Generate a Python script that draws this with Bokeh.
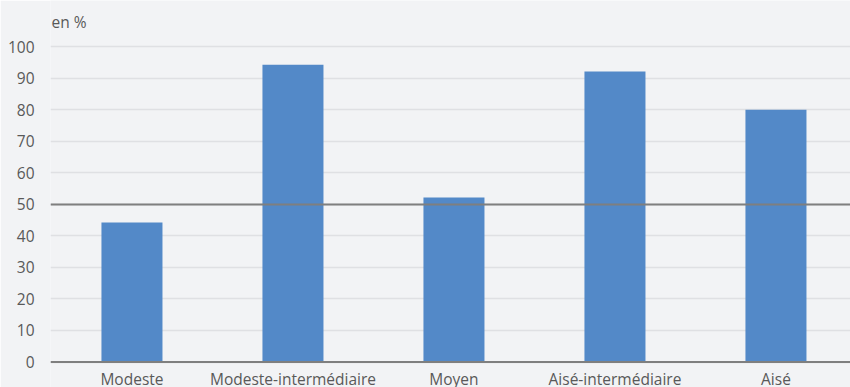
from bokeh.plotting import figure
from bokeh.models import Span, FixedTicker, Range1d, ColumnDataSource
from bokeh.core.properties import value
from bokeh.embed import file_html
from bokeh.resources import INLINE

categories = ["Modeste", "Modeste-intermédiaire", "Moyen", "Aisé-intermédiaire", "Aisé"]
values = [44.3, 94.4, 52.2, 92.2, 80.1]
y_ticks = [0, 10, 20, 30, 40, 50, 60, 70, 80, 90, 100]
unit_label = "en %"
reference_line = 50

BG = "#f2f3f5"
FONT = "Open Sans"
TXT = "#595959"
FS = "15.5px"

xpos = [i + 0.5 for i in range(len(categories))]
src = ColumnDataSource(dict(x=xpos, top=values, label=categories))

# frame covers the full height; 0..100 maps to pixel rows 361.5..46.5
p = figure(x_range=Range1d(-0.006, 4.963), y_range=Range1d(-8.095, 114.76),
           width=850, height=387,
           output_backend="svg", toolbar_location=None, x_axis_location=None,
           min_border_left=50, min_border_right=0, min_border_top=0, min_border_bottom=0,
           background_fill_color=BG, border_fill_color=BG, outline_line_color=None)

p.vbar(x="x", top="top", source=src, width=0.379, color="#5389c8", line_color=None)

p.yaxis.ticker = FixedTicker(ticks=y_ticks)
p.yaxis.axis_line_color = None
p.yaxis.major_tick_line_color = None
p.yaxis.major_tick_out = 0
p.yaxis.major_tick_in = 0
p.yaxis.minor_tick_line_color = None
p.yaxis.major_label_text_font = FONT
p.yaxis.major_label_text_font_size = FS
p.yaxis.major_label_text_color = TXT
p.yaxis.major_label_standoff = 16

p.xgrid.grid_line_color = None
p.ygrid.ticker = FixedTicker(ticks=y_ticks)
p.ygrid.grid_line_color = "#dfe0e3"
p.ygrid.grid_line_width = 1.5

p.add_layout(Span(location=0, dimension="width", line_color="#7f7f7f", line_width=1.8))
p.add_layout(Span(location=reference_line, dimension="width", line_color="#7f7f7f", line_width=1.8))

# category labels under the zero line
p.text(x="x", y=value(-5.4), text="label", source=src,
       text_align="center", text_baseline="alphabetic",
       text_font=value(FONT), text_font_size=value(FS), text_color=TXT)

# unit label above the axis
p.text(x=[-0.006], y=[107.8], text=[unit_label], x_offset=1,
       text_align="left", text_baseline="alphabetic",
       text_font=value(FONT), text_font_size=value(FS), text_color=TXT)

open("out.html", "w").write(file_html(p, INLINE))
